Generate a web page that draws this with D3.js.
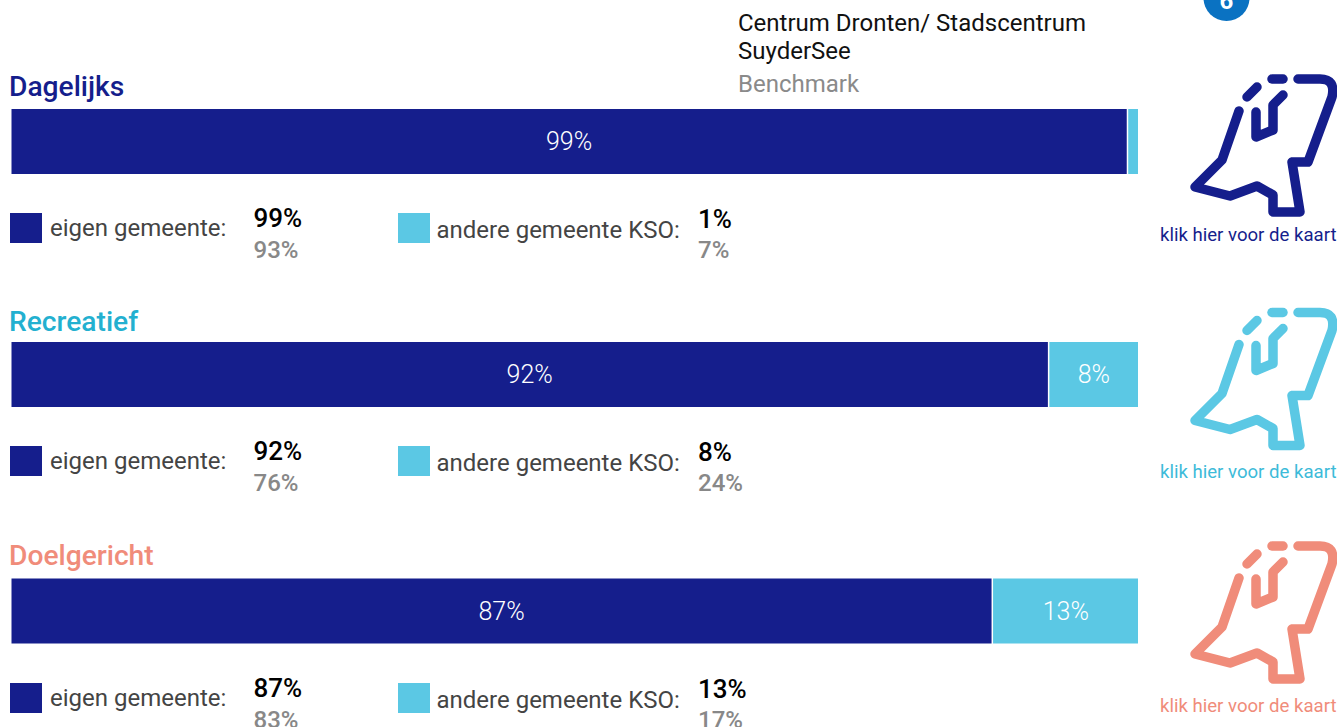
<!DOCTYPE html>
<html><head><meta charset="utf-8">
<script src="https://cdn.jsdelivr.net/npm/d3@7"></script>
<style>html,body{margin:0;padding:0;background:#fff;overflow:hidden}svg{display:block;font-family:Roboto,sans-serif}</style>
</head><body><svg id="c" width="1337" height="727"></svg>
<script>
const categories = ["Dagelijks","Recreatief","Doelgericht"];
const eigenValues = [99,92,87];
const andereValues = [1,8,13];
const eigenBenchmark = [93,76,83];
const andereBenchmark = [7,24,17];
const titleColors = ["#151e8c","#23b0d0","#f08c7a"];
const iconColors = ["#151e8c","#5bc8e4","#f08c7a"];
const mapLabelColors = ["#151e8c","#3dbbd9","#f08c7a"];
const legendLabels = ["eigen gemeente:","andere gemeente KSO:"];
const seriesColors = ["#151e8c","#5bc8e4"];
const legendHeader = ["Centrum Dronten/ Stadscentrum","SuyderSee"];
const benchmarkLabel = "Benchmark";
const mapLabel = "klik hier voor de kaart";

const barTops = [109,342,578.5];
const titleBase = [96,331,565];
const legendTops = [213,446,683];
const iconDy = [0,233.5,467];
const mapLabelBase = [241,478,712];

const svg = d3.select("#c");
const x = d3.scaleLinear().domain([0,100]).range([11.5,1138]);
const barH = 65;

// header
svg.append("g").selectAll("text").data(legendHeader).join("text")
  .attr("x",738).attr("y",(d,i)=>31+i*28).attr("font-size",24).attr("fill","#111").text(d=>d);
svg.append("text").attr("x",738).attr("y",92).attr("font-size",24).attr("fill","#8a8a8a").text(benchmarkLabel);

// badge
svg.append("circle").attr("cx",1226.5).attr("cy",-2).attr("r",23).attr("fill","#0a72c2");
svg.append("text").attr("x",1226.5).attr("y",9).attr("text-anchor","middle").attr("font-size",24).attr("font-weight",700).attr("fill","#fff").text("6");

const mainPath = d3.line().curve(d3.curveLinear)([[1239,111],[1222,160],[1195,187],[1230,196],[1257,186],[1273,195],[1273,212],[1300,212],[1292,162],[1308,162],[1332,97]]);
const iconPaths = [
  mainPath + " Q1336,79 1320,79 L1298,79",
  "M1256,112 L1256,137 L1273,130 L1273,105 L1283,95",
  "M1247,97 L1257,87",
  "M1272,79 L1283,79"
];

categories.forEach((c,i)=>{
  const g = svg.append("g");
  g.append("text").attr("x",9).attr("y",titleBase[i]).attr("font-size",28.2).attr("font-weight",500).attr("fill",titleColors[i]).text(c);
  const top = barTops[i];
  g.append("rect").attr("x",x(0)).attr("y",top).attr("width",x(eigenValues[i])-x(0)).attr("height",barH).attr("fill",seriesColors[0]);
  g.append("rect").attr("x",x(eigenValues[i])+1.5).attr("y",top).attr("width",x(100)-x(eigenValues[i])-1.5).attr("height",barH).attr("fill",seriesColors[1]);
  g.append("text").attr("x",(x(0)+x(eigenValues[i]))/2).attr("y",top+41).attr("text-anchor","middle").attr("font-size",25).attr("font-weight",300).attr("fill","#fff").text(eigenValues[i]+"%");
  if(andereValues[i]>=5) g.append("text").attr("x",(x(eigenValues[i])+x(100))/2+1).attr("y",top+41).attr("text-anchor","middle").attr("font-size",25).attr("font-weight",300).attr("fill","#fff").text(andereValues[i]+"%");
  const ly = legendTops[i];
  g.append("rect").attr("x",10).attr("y",ly).attr("width",32).attr("height",30).attr("fill",seriesColors[0]);
  g.append("text").attr("x",50).attr("y",ly+23).attr("font-size",24).attr("fill","#444").text(legendLabels[0]);
  g.append("text").attr("x",253.5).attr("y",ly+14).attr("font-size",26).attr("font-weight",500).attr("fill","#000").text(eigenValues[i]+"%");
  g.append("text").attr("x",253.5).attr("y",ly+45).attr("font-size",24).attr("font-weight",500).attr("fill","#888").text(eigenBenchmark[i]+"%");
  g.append("rect").attr("x",398).attr("y",ly).attr("width",32).attr("height",30).attr("fill",seriesColors[1]);
  g.append("text").attr("x",436.5).attr("y",ly+24.5).attr("font-size",24).attr("fill","#444").text(legendLabels[1]);
  g.append("text").attr("x",698).attr("y",ly+15).attr("font-size",26).attr("font-weight",500).attr("fill","#000").text(andereValues[i]+"%");
  g.append("text").attr("x",698).attr("y",ly+45).attr("font-size",24).attr("font-weight",500).attr("fill","#888").text(andereBenchmark[i]+"%");
  const ic = g.append("g").attr("transform",`translate(0,${iconDy[i]})`);
  ic.selectAll("path").data(iconPaths).join("path").attr("d",d=>d).attr("fill","none").attr("stroke",iconColors[i]).attr("stroke-width",9.5).attr("stroke-linecap","round").attr("stroke-linejoin","round");
  g.append("text").attr("x",1160).attr("y",mapLabelBase[i]).attr("font-size",18.6).attr("fill",mapLabelColors[i]).text(mapLabel);
});
</script></body></html>
